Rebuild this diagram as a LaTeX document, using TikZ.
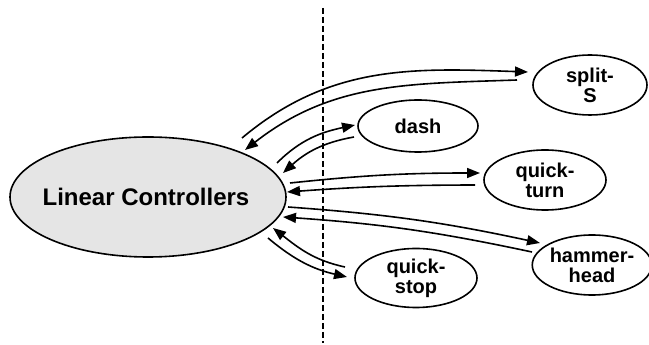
\documentclass[tikz,border=0pt]{standalone}
\usepackage{fontspec}
\setmainfont{Liberation Sans}
\usetikzlibrary{arrows.meta,calc,shapes.geometric}
\begin{document}
\begin{tikzpicture}[x=1pt,y=1pt,
  oval/.style={ellipse,draw=black,line width=1.6pt,inner sep=0pt,align=center,
    font=\fontsize{20}{20}\selectfont\bfseries},
  arr/.style={line width=1.6pt,-{Triangle[length=13pt,width=10pt]}},
  sep/.style={line width=1.3pt,dash pattern=on 6pt off 3pt}]
\useasboundingbox (0,0) rectangle (649,345);
\node[ellipse,draw=black,line width=1.6pt,fill=gray!20,minimum width=276pt,minimum height=120pt,inner sep=0pt,
  label={[font=\fontsize{24}{26}\selectfont\bfseries,xshift=-2pt]center:Linear Controllers}] (LC) at (148,148) {};
\node[oval,minimum width=114pt,minimum height=60pt] (S) at (590,260) {split-\\S};
\node[oval,minimum width=120pt,minimum height=52pt] (D) at (418,219) {dash};
\node[oval,minimum width=122pt,minimum height=60pt] (QT) at (545,165) {quick-\\turn};
\node[oval,minimum width=114pt,minimum height=60pt] (HH) at (592,80) {hammer-\\head};
\node[oval,minimum width=122pt,minimum height=59pt] (QS) at (416,67) {quick-\\stop};
\coordinate (top) at (323,337);
\coordinate (bot) at (323,2);
\draw[sep] (top) -- (bot);
% split-S
\draw[arr] ($(LC.center)+(94,59)$) to[out=40,in=178] ($(S.center)+(-62,13)$);
\draw[arr] ($(S.center)+(-73,5)$) to[out=182,in=38] ($(LC.center)+(97,47)$);
% dash
\draw[arr] ($(LC.center)+(129,34)$) to[out=45,in=192] ($(D.center)+(-63,1)$);
\draw[arr] ($(D.center)+(-64,-11)$) to[out=190,in=42] ($(LC.center)+(135,24)$);
% quick-turn
\draw[arr] ($(LC.center)+(142,14)$) to[bend left=3] ($(QT.center)+(-65,7)$);
\draw[arr] ($(QT.center)+(-70,-5)$) to[bend right=2] ($(LC.center)+(139,5)$);
% hammer-head
\draw[arr] ($(LC.center)+(140,-10)$) to[bend left=4] ($(HH.center)+(-52,22)$);
\draw[arr] ($(HH.center)+(-60,13)$) to[bend right=4] ($(LC.center)+(135,-20)$);
% quick-stop
\draw[arr] ($(QS.center)+(-71,11)$) to[out=168,in=-38] ($(LC.center)+(125,-31)$);
\draw[arr] ($(LC.center)+(120,-41)$) to[out=-40,in=167] ($(QS.center)+(-69,1)$);
\end{tikzpicture}
\end{document}
